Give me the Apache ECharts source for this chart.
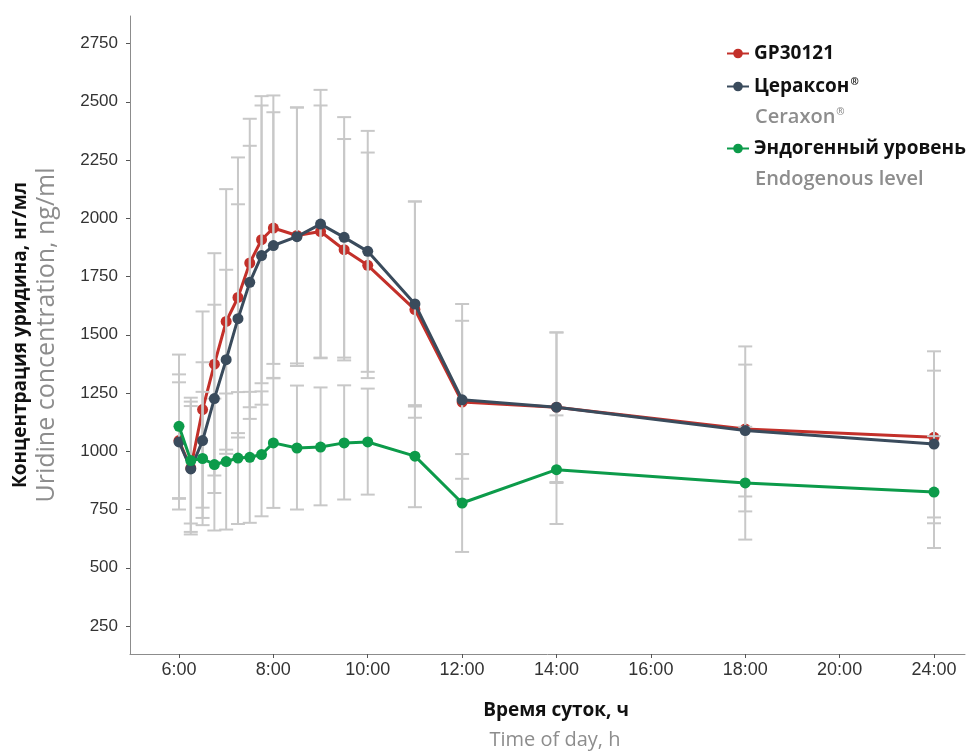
<!DOCTYPE html>
<html><head><meta charset="utf-8">
<script src="https://cdn.jsdelivr.net/npm/echarts@6/dist/echarts.min.js"></script>
<style>html,body{margin:0;padding:0;background:#fff}#c{width:971px;height:751px}</style>
</head><body><div id="c"></div>
<script>
// Sampling times as positions on the hour axis. The reference draws its last sample ("24:00") on the 22-h slot.
const timePos = [6, 6.25, 6.5, 6.75, 7, 7.25, 7.5, 7.75, 8, 8.5, 9, 9.5, 10, 11, 12, 14, 18, 22];
const xTickPos = [6, 8, 10, 12, 14, 16, 18, 20, 22];
const xTickLabels = ['6:00', '8:00', '10:00', '12:00', '14:00', '16:00', '18:00', '20:00', '24:00'];
const yTickValues = [250, 500, 750, 1000, 1250, 1500, 1750, 2000, 2250, 2500, 2750];

const seriesNames = ['GP30121', 'Цераксон®', 'Эндогенный уровень'];
const seriesSubtitles = ['', 'Ceraxon®', 'Endogenous level'];

const gpMean = [1046, 928, 1179, 1374, 1557, 1660, 1808, 1908, 1958, 1926, 1943, 1865, 1798, 1608, 1211, 1189, 1096, 1060];
const gpLow  = [796, 643, 758, 896, 989, 1059, 1189, 1292, 1375, 1377, 1402, 1390, 1314, 1144, 790, 864, 742, 691];
const gpHigh = [1296, 1213, 1600, 1850, 2125, 2261, 2427, 2524, 2527, 2475, 2484, 2340, 2282, 2072, 1632, 1510, 1450, 1429];

const cerMean = [1040, 924, 1046, 1226, 1393, 1569, 1725, 1840, 1883, 1921, 1975, 1918, 1858, 1632, 1221, 1189, 1089, 1031];
const cerLow  = [750, 654, 714, 821, 1007, 1078, 1139, 1200, 1313, 1366, 1399, 1402, 1341, 1192, 882, 868, 806, 716];
const cerHigh = [1330, 1194, 1382, 1629, 1779, 2060, 2311, 2484, 2455, 2476, 2551, 2434, 2375, 2072, 1560, 1510, 1372, 1346];

const endMean = [1107, 960, 969, 943, 956, 971, 974, 986, 1036, 1014, 1018, 1036, 1040, 979, 778, 921, 864, 825];
const endLow  = [799, 690, 683, 660, 664, 688, 693, 721, 757, 750, 768, 793, 814, 760, 568, 688, 621, 585];
const endHigh = [1415, 1230, 1255, 1226, 1248, 1254, 1255, 1257, 1315, 1282, 1274, 1283, 1269, 1198, 988, 1154, 1105, 1065];

const colors = ['#c3302a', '#3a4b5c', '#0c9b4a'];

function pts(mean) { return timePos.map((t, i) => [t, mean[i]]); }
function errs(lo, hi) { return timePos.map((t, i) => [t, lo[i], hi[i]]); }

function errRender(params, api) {
  const x = api.value(0), lo = api.value(1), hi = api.value(2);
  const pLo = api.coord([x, lo]), pHi = api.coord([x, hi]);
  const w = 7;
  const style = { stroke: '#c8c8c8', lineWidth: 2, fill: null };
  return { type: 'group', children: [
    { type: 'line', shape: { x1: pHi[0], y1: pHi[1], x2: pLo[0], y2: pLo[1] }, style: style },
    { type: 'line', shape: { x1: pHi[0] - w, y1: pHi[1], x2: pHi[0] + w, y2: pHi[1] }, style: style },
    { type: 'line', shape: { x1: pLo[0] - w, y1: pLo[1], x2: pLo[0] + w, y2: pLo[1] }, style: style }
  ]};
}

function errSeries(lo, hi) {
  return { type: 'custom', renderItem: errRender, data: errs(lo, hi), encode: { x: 0, y: [1, 2] }, z: 3, silent: true };
}
function lineSeries(name, mean, color, z) {
  return { name: name, type: 'line', data: pts(mean), symbol: 'circle', symbolSize: 11, showSymbol: true,
    lineStyle: { color: color, width: 3 }, itemStyle: { color: color }, z: z, silent: true };
}

const legendText = { fontFamily: 'Open Sans', fontWeight: 'bold', fontSize: 19, color: '#111',
  rich: { r: { fontFamily: 'Open Sans', fontWeight: 'bold', fontSize: 10, color: '#111', verticalAlign: 'top', padding: [0, 0, 8, 1] } } };
function legendAt(name, top) {
  return { data: [name], left: 726, top: top, padding: 0, itemWidth: 22, itemHeight: 12, orient: 'vertical',
    textStyle: legendText, formatter: n => n.replace('®', '{r|®}'), selectedMode: false };
}
const subStyle = { fontFamily: 'Open Sans', fontWeight: 600, fontSize: 20, fill: '#8d8d8d', verticalAlign: 'middle',
  rich: { r: { fontFamily: 'Open Sans', fontWeight: 600, fontSize: 10, fill: '#8d8d8d', verticalAlign: 'top', padding: [0, 0, 8, 1] } } };

const chart = echarts.init(document.getElementById('c'), null, { renderer: 'canvas' });
chart.setOption({
  animation: false,
  backgroundColor: '#fff',
  grid: { left: 130, right: 6, top: 16, bottom: 97, containLabel: false },
  xAxis: {
    type: 'value', min: 4.962, max: 22.657,
    axisLine: { show: true, lineStyle: { color: '#8c8c8c', width: 1 } },
    axisTick: { show: true, customValues: xTickPos, length: 4, lineStyle: { color: '#555' } },
    axisLabel: { customValues: xTickPos, margin: 7, fontFamily: 'Liberation Sans', fontSize: 18, color: '#333',
      formatter: v => xTickLabels[xTickPos.indexOf(Math.round(v))] },
    splitLine: { show: false }
  },
  yAxis: {
    type: 'value', min: 130, max: 2868,
    axisLine: { show: true, lineStyle: { color: '#8c8c8c', width: 1 } },
    axisTick: { show: true, customValues: yTickValues, length: 4, lineStyle: { color: '#555' } },
    axisLabel: { customValues: yTickValues, margin: 12, fontFamily: 'Liberation Sans', fontSize: 17, color: '#333',
      formatter: v => String(Math.round(v)) },
    splitLine: { show: false }
  },
  legend: [
    legendAt(seriesNames[0], 44),
    legendAt(seriesNames[1], 77),
    legendAt(seriesNames[2], 139)
  ],
  graphic: [
    { type: 'text', x: 755, y: 117, style: Object.assign({ text: seriesSubtitles[1].replace('®', '{r|®}') }, subStyle) },
    { type: 'text', x: 755, y: 179, style: Object.assign({ text: seriesSubtitles[2] }, subStyle) },
    { type: 'text', x: 556, y: 711, style: { text: 'Время суток, ч', fontFamily: 'Open Sans', fontWeight: 'bold', fontSize: 19, fill: '#111', align: 'center', verticalAlign: 'middle' } },
    { type: 'text', x: 555, y: 740, style: { text: 'Time of day, h', fontFamily: 'Open Sans', fontSize: 20, fill: '#8d8d8d', align: 'center', verticalAlign: 'middle' } },
    { type: 'text', x: 21, y: 335, rotation: Math.PI / 2, style: { text: 'Концентрация уридина, нг/мл', fontFamily: 'Open Sans', fontWeight: 'bold', fontSize: 19, fill: '#111', align: 'center', verticalAlign: 'middle' } },
    { type: 'text', x: 47, y: 335, rotation: Math.PI / 2, style: { text: 'Uridine concentration, ng/ml', fontFamily: 'Open Sans', fontSize: 25, fill: '#8d8d8d', align: 'center', verticalAlign: 'middle' } }
  ],
  series: [
    lineSeries(seriesNames[0], gpMean, colors[0], 2),
    errSeries(gpLow, gpHigh),
    errSeries(cerLow, cerHigh),
    errSeries(endLow, endHigh),
    lineSeries(seriesNames[1], cerMean, colors[1], 4),
    lineSeries(seriesNames[2], endMean, colors[2], 5)
  ]
});
</script></body></html>
